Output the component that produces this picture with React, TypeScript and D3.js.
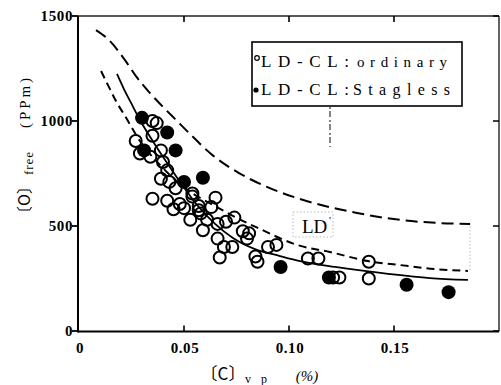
import React from 'react';
import * as d3 from 'd3';

// Oxygen content vs. carbon content, LD-CL heats
const xTicks = [0, 0.05, 0.1, 0.15];
const xTickLabels = ['0', '0.05', '0.10', '0.15'];
const yTicks = [0, 500, 1000, 1500];

// [C]vp (%), [O]free (ppm)
const ordinaryPoints: [number, number][] = [
  [0.035, 1000], [0.037, 990], [0.027, 905], [0.035, 930], [0.029, 845],
  [0.034, 830], [0.039, 860], [0.040, 805], [0.042, 765], [0.039, 725],
  [0.043, 710], [0.035, 630], [0.042, 620], [0.046, 680], [0.045, 580],
  [0.050, 585], [0.054, 640], [0.053, 530], [0.058, 560], [0.061, 530],
  [0.063, 590], [0.065, 635], [0.066, 510], [0.057, 595], [0.059, 480],
  [0.070, 520], [0.074, 540], [0.066, 440], [0.069, 400], [0.067, 350],
  [0.073, 400], [0.078, 475], [0.081, 465], [0.084, 355], [0.090, 400],
  [0.085, 330], [0.109, 345], [0.114, 345], [0.121, 255], [0.124, 255],
  [0.138, 330], [0.138, 250], [0.054, 655], [0.057, 575], [0.080, 440],
  [0.094, 410], [0.048, 605],
];

const staglessPoints: [number, number][] = [
  [0.030, 1015], [0.042, 945], [0.031, 860], [0.046, 860], [0.050, 710],
  [0.059, 730], [0.096, 305], [0.119, 255], [0.156, 220], [0.176, 185],
];

// upper boundary of the LD band
const upperLD: [number, number][] = [
  [0.0081, 1433], [0.0138, 1390], [0.0219, 1290], [0.0271, 1214], [0.0338, 1133],
  [0.0405, 1062], [0.0457, 1010], [0.0538, 929], [0.0629, 843], [0.0762, 752],
  [0.0886, 690], [0.1052, 629], [0.1324, 562], [0.1529, 529], [0.1719, 514],
  [0.1862, 510],
];

// lower boundary of the LD band
const lowerLD: [number, number][] = [
  [0.0105, 1238], [0.0138, 1171], [0.0176, 1095], [0.0219, 1024], [0.029, 905],
  [0.0386, 790], [0.0505, 681], [0.0657, 590], [0.0752, 538], [0.0862, 486],
  [0.1038, 410], [0.1195, 376], [0.1376, 333], [0.1529, 314], [0.1695, 295],
  [0.1852, 286],
];

// LD-CL trend line
const fitLine: [number, number][] = [
  [0.0181, 1224], [0.0214, 1152], [0.0248, 1086], [0.029, 1005], [0.0348, 910],
  [0.041, 814], [0.0481, 710], [0.0562, 600], [0.0648, 510], [0.0733, 443],
  [0.0838, 390], [0.0957, 357], [0.1052, 333], [0.1219, 305], [0.1481, 271],
  [0.1671, 252], [0.1852, 243],
];

const serifFont = 'Liberation Serif, Times New Roman, DejaVu Serif, serif';
const cjkFont = 'Noto Sans CJK JP, Liberation Serif, serif';

export default function App() {
  const x = d3.scaleLinear().domain([0, 0.2]).range([79, 499]);
  const y = d3.scaleLinear().domain([0, 1500]).range([331, 16]);
  const line = d3
    .line<[number, number]>()
    .x((d) => x(d[0]))
    .y((d) => y(d[1]))
    .curve(d3.curveMonotoneX);

  const left = 78, right = 499, top = 16, bottom = 331.5;

  return (
    <svg
      width={501}
      height={385}
      style={{ position: 'absolute', left: 0, top: 0, background: '#fff' }}
    >
      <rect x={0} y={0} width={501} height={385} fill="#fff" />

      {/* frame */}
      <line x1={left} x2={left} y1={top} y2={bottom + 1} stroke="#000" strokeWidth={2} />
      <line x1={left} x2={right} y1={bottom} y2={bottom} stroke="#000" strokeWidth={1.8} />
      <line x1={left} x2={right} y1={top} y2={top} stroke="#222" strokeWidth={1.4} />
      <line x1={right} x2={right} y1={top} y2={bottom} stroke="#222" strokeWidth={1.4} />

      {/* ticks */}
      {yTicks.map((t) => (
        <g key={'y' + t}>
          <line x1={left - 6} x2={left} y1={y(t)} y2={y(t)} stroke="#000" strokeWidth={1.8} />
          <line x1={right - 6} x2={right} y1={y(t)} y2={y(t)} stroke="#000" strokeWidth={1.5} />
          <text
            x={left - 5}
            y={y(t) + 5}
            textAnchor="end"
            fontFamily={serifFont}
            fontWeight="bold"
            fontSize={15}
            letterSpacing={0.6}
          >
            {t}
          </text>
        </g>
      ))}
      {xTicks.map((t, i) => (
        <g key={'x' + t}>
          {t > 0 && (
            <>
              <line x1={x(t)} x2={x(t)} y1={bottom - 6} y2={bottom} stroke="#000" strokeWidth={1.6} />
              <line x1={x(t)} x2={x(t)} y1={top} y2={top + 6} stroke="#000" strokeWidth={1.6} />
            </>
          )}
          <text
            x={x(t) + 1}
            y={353}
            textAnchor="middle"
            fontFamily={serifFont}
            fontWeight="bold"
            fontSize={15}
            letterSpacing={0.6}
          >
            {xTickLabels[i]}
          </text>
        </g>
      ))}

      {/* LD band labels (faint dotted guides) */}
      <rect x={293} y={212} width={40} height={25} fill="none" stroke="#aaa" strokeWidth={0.8} strokeDasharray="1.5,2" />
      <line x1={470} x2={470} y1={223} y2={271} stroke="#aaa" strokeWidth={0.8} strokeDasharray="1.5,2" />
      <text x={302} y={233} fontFamily={serifFont} fontSize={19}>LD</text>
      <text x={329} y={224} fontFamily={serifFont} fontSize={11}>'</text>

      {/* curves */}
      <path d={line(upperLD) || ''} fill="none" stroke="#000" strokeWidth={2} strokeDasharray="12,6" />
      <path d={line(lowerLD) || ''} fill="none" stroke="#000" strokeWidth={2} strokeDasharray="8,5" />
      <path d={line(fitLine) || ''} fill="none" stroke="#000" strokeWidth={1.8} />

      {/* points */}
      {staglessPoints.map((d, i) => (
        <circle key={'s' + i} cx={x(d[0])} cy={y(d[1])} r={7} fill="#000" />
      ))}
      {ordinaryPoints.map((d, i) => (
        <circle key={'o' + i} cx={x(d[0])} cy={y(d[1])} r={6} fill="none" stroke="#000" strokeWidth={2} />
      ))}

      {/* legend */}
      <rect x={252} y={42} width={210} height={64} fill="#fff" stroke="#000" strokeWidth={1.6} />
      <circle cx={257} cy={58} r={2.3} fill="none" stroke="#000" strokeWidth={1.2} />
      <text x={261} y={67} fontFamily={serifFont} fontSize={17} textLength={88} lengthAdjust="spacing">LD-CL:</text>
      <text x={357} y={67} fontFamily={serifFont} fontSize={15} textLength={90} lengthAdjust="spacing">ordinary</text>
      <circle cx={256} cy={90} r={2.6} fill="#000" />
      <text x={261} y={95} fontFamily={serifFont} fontSize={17} textLength={88} lengthAdjust="spacing">LD-CL:</text>
      <text x={353} y={95} fontFamily={serifFont} fontSize={16} textLength={97} lengthAdjust="spacing">Stagless</text>
      <line x1={330} x2={330} y1={107} y2={147} stroke="#333" strokeWidth={1.2} strokeDasharray="2,2,6,3" />

      {/* x axis title */}
      <text x={223} y={380} textAnchor="middle" fontFamily={cjkFont} fontSize={17}>〔C〕</text>
      <text x={248} y={383} textAnchor="middle" fontFamily={serifFont} fontSize={12}>v</text>
      <text x={264} y={383} textAnchor="middle" fontFamily={serifFont} fontSize={12}>p</text>
      <text x={307} y={381} textAnchor="middle" fontFamily={serifFont} fontSize={15} fontStyle="italic">(%)</text>

      {/* y axis title, reads bottom to top */}
      <g transform="translate(30,200) rotate(-90)">
        <text textAnchor="middle" fontFamily={cjkFont} fontSize={16}>〔O〕</text>
      </g>
      <g transform="translate(33,163) rotate(-90)">
        <text textAnchor="middle" fontFamily={serifFont} fontSize={13} letterSpacing={1}>free</text>
      </g>
      <g transform="translate(30,103) rotate(-90)">
        <text textAnchor="middle" fontFamily={serifFont} fontSize={15} textLength={50} lengthAdjust="spacing">(PPm)</text>
      </g>
    </svg>
  );
}
